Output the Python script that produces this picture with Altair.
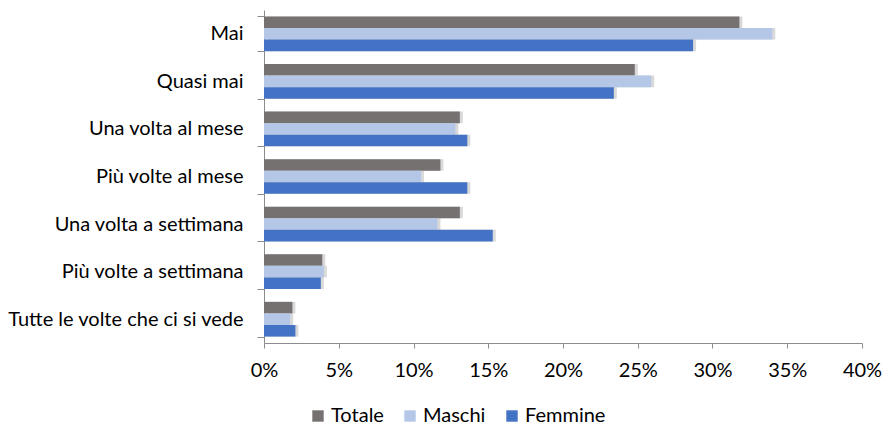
import altair as alt
import pandas as pd

categories = ["Mai", "Quasi mai", "Una volta al mese", "Più volte al mese",
              "Una volta a settimana", "Più volte a settimana",
              "Tutte le volte che ci si vede"]
series = ["Totale", "Maschi", "Femmine"]
totale = [31.8, 24.8, 13.1, 11.8, 13.1, 3.9, 1.9]
maschi = [34.0, 25.9, 12.8, 10.5, 11.6, 4.0, 1.75]
femmine = [28.7, 23.4, 13.6, 13.6, 15.3, 3.8, 2.1]
colors = ["#767171", "#B4C7E7", "#4472C4"]

rows = []
for i, c in enumerate(categories):
    for s, vals in zip(series, [totale, maschi, femmine]):
        rows.append({"cat": c, "serie": s, "val": vals[i] / 100.0})
df = pd.DataFrame(rows)

FONT = "Lato"
FS = 20

y_enc = alt.Y("cat:N", sort=categories, title=None,
              scale=alt.Scale(paddingInner=0.27, paddingOuter=0.135),
              axis=alt.Axis(labelFontSize=FS, labelFont=FONT, labelColor="#000000",
                            labelPadding=14, tickSize=7, tickBand="extent",
                            domainColor="#8c8c8c", tickColor="#8c8c8c",
                            labelLimit=400))
yoff = alt.YOffset("serie:N", sort=series, scale=alt.Scale(paddingInner=0, paddingOuter=0))
x_enc = alt.X("val:Q", title=None,
              scale=alt.Scale(domain=[0, 0.4], nice=False),
              axis=alt.Axis(format=".0%", values=[0, .05, .1, .15, .2, .25, .3, .35, .4],
                            labelFontSize=FS, labelFont=FONT, labelColor="#000000",
                            grid=False, tickSize=5, labelPadding=12, labelFlush=False,
                            domainColor="#8c8c8c", tickColor="#8c8c8c"))

base = alt.Chart(df)

shadow = base.mark_bar(color="#000000", opacity=0.15, xOffset=3).encode(
    x=x_enc, y=y_enc, yOffset=yoff)

bars = base.mark_bar().encode(
    x=x_enc, y=y_enc, yOffset=yoff,
    color=alt.Color("serie:N", sort=series,
                    scale=alt.Scale(domain=series, range=colors),
                    legend=alt.Legend(title=None, orient="none", direction="horizontal",
                                      legendX=44, legendY=396,
                                      symbolType="square", symbolSize=130,
                                      symbolStrokeWidth=0,
                                      labelFontSize=FS, labelFont=FONT, labelColor="#000000",
                                      columnPadding=16, labelOffset=3)))

chart = alt.layer(shadow, bars).properties(
    width=598, height=333,
    background="white",
    autosize=alt.AutoSizeParams(type="none"),
    padding={"left": 264, "top": 10, "right": 20, "bottom": 83},
).configure_view(stroke=None)

chart.save("out.html", embed_options={"renderer": "svg", "actions": False})
